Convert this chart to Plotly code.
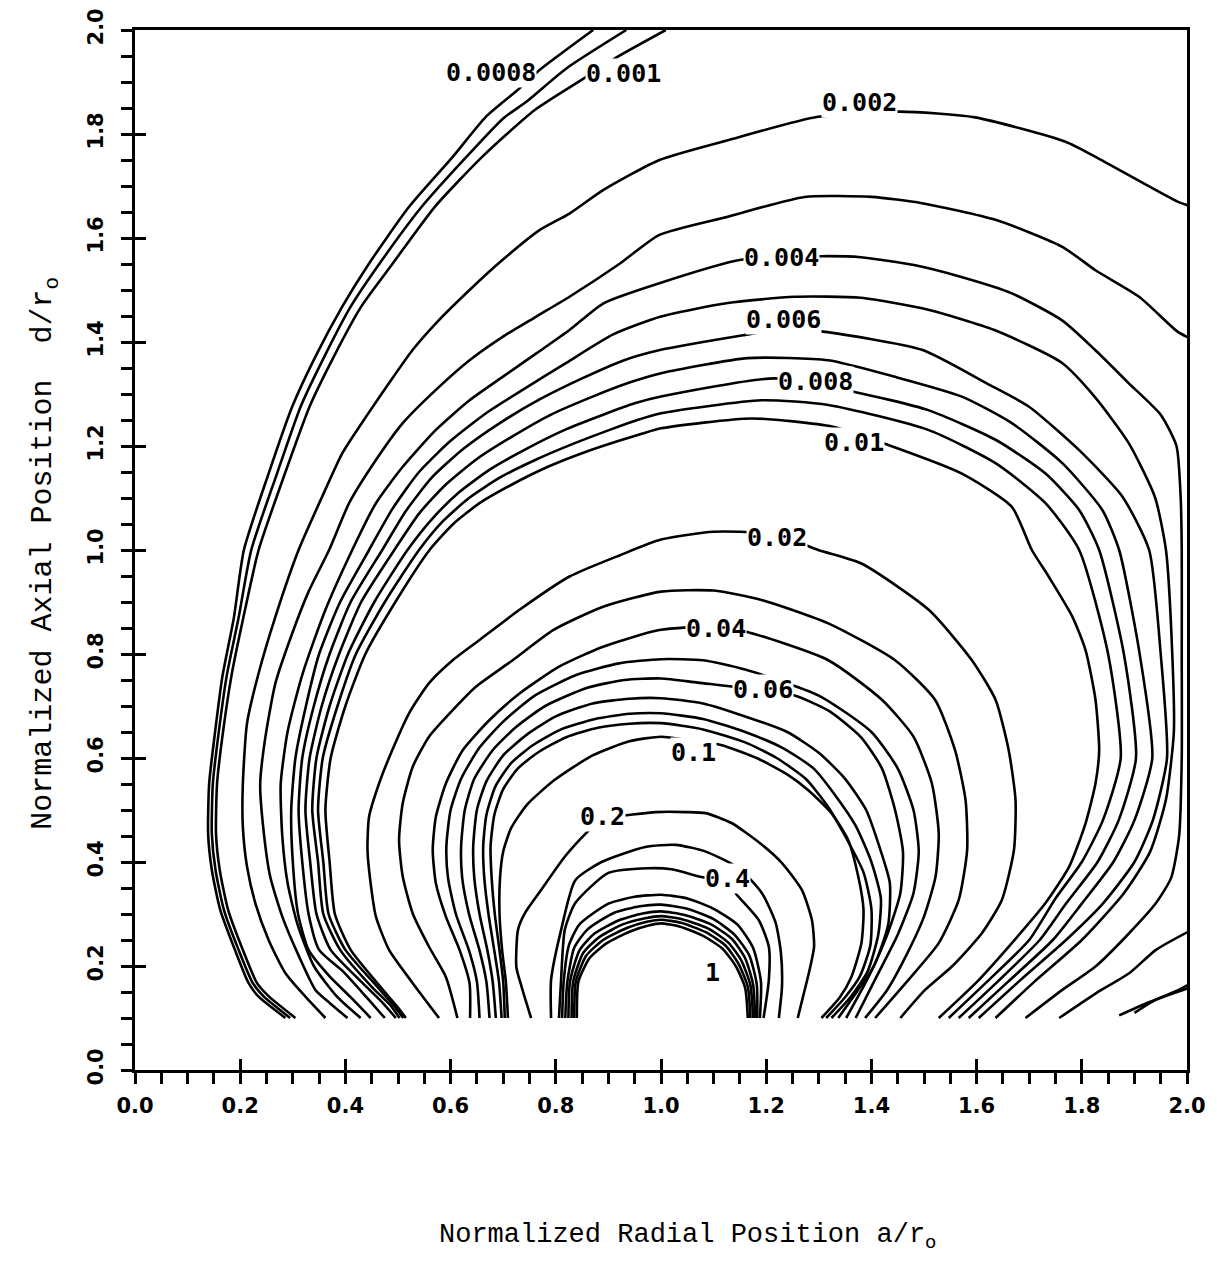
import plotly.graph_objects as go

# ---------------- contour lines (data units) ----------------
C0008_X = [0.286,0.235,0.216,0.19,0.162,0.146,0.139,0.141,0.151,0.166,0.188,0.207,0.254,0.299,0.343,0.394,0.445,0.521,0.604,0.667,0.728,0.769,0.871]
C0008_Y = [0.1,0.141,0.167,0.231,0.308,0.385,0.455,0.551,0.64,0.756,0.87,1.0,1.147,1.276,1.372,1.468,1.551,1.66,1.756,1.833,1.885,1.923,2.0]

C0009_X = [0.295,0.245,0.224,0.197,0.169,0.153,0.146,0.148,0.158,0.174,0.197,0.221,0.27,0.315,0.36,0.41,0.465,0.545,0.63,0.7,0.744,0.82,0.934]
C0009_Y = [0.1,0.141,0.167,0.231,0.308,0.385,0.455,0.551,0.64,0.756,0.87,1.0,1.147,1.276,1.372,1.468,1.551,1.66,1.756,1.83,1.862,1.926,2.0]

C001_X = [0.305,0.255,0.232,0.205,0.177,0.161,0.154,0.156,0.166,0.183,0.206,0.235,0.285,0.332,0.378,0.43,0.49,0.57,0.66,0.76,0.849,0.913,1.009]
C001_Y = [0.1,0.141,0.167,0.231,0.308,0.385,0.455,0.551,0.64,0.756,0.87,1.0,1.147,1.276,1.372,1.468,1.551,1.66,1.756,1.846,1.904,1.946,2.0]
C001B_X = [1.90,1.94,1.98,2.01]
C001B_Y = [0.11,0.135,0.152,0.168]

C002_X = [0.362,0.324,0.286,0.254,0.229,0.213,0.205,0.205,0.213,0.235,0.267,0.311,0.356,0.394,0.439,0.483,0.528,0.572,0.636,0.699,0.769,0.826,0.89,0.997,1.127,1.298,1.454,1.597,1.769,1.826,1.982,2.01]
C002_Y = [0.1,0.141,0.186,0.25,0.32,0.391,0.468,0.55,0.667,0.763,0.872,1.0,1.103,1.186,1.256,1.321,1.385,1.436,1.5,1.558,1.615,1.647,1.692,1.75,1.788,1.833,1.843,1.832,1.785,1.756,1.67,1.66]
C002B_X = [1.871,1.922,1.973,2.01]
C002B_Y = [0.105,0.128,0.147,0.16]

C003_X = [0.404,0.369,0.343,0.312,0.28,0.257,0.245,0.238,0.248,0.267,0.299,0.33,0.369,0.407,0.458,0.509,0.572,0.636,0.699,0.763,0.826,0.922,0.997,1.127,1.273,1.4,1.496,1.636,1.763,1.826,1.909,1.982,2.01]
C003_Y = [0.1,0.13,0.154,0.218,0.295,0.372,0.455,0.55,0.641,0.744,0.84,0.92,1.0,1.09,1.173,1.244,1.308,1.365,1.41,1.449,1.487,1.551,1.606,1.641,1.679,1.679,1.667,1.635,1.583,1.538,1.487,1.42,1.405]
C003B_X = [1.757,1.826,1.89,1.941,2.01]
C003B_Y = [0.1,0.147,0.186,0.231,0.27]

C004_X = [0.429,0.385,0.34,0.309,0.29,0.28,0.277,0.29,0.318,0.36,0.413,0.458,0.509,0.572,0.636,0.699,0.763,0.826,0.89,0.997,1.152,1.304,1.38,1.481,1.571,1.666,1.762,1.825,1.889,1.95,1.98,1.988,1.99,1.99,1.99,1.985,1.97,1.941,1.89,1.826,1.763,1.693]
C004_Y = [0.1,0.14,0.2,0.28,0.36,0.45,0.55,0.65,0.76,0.88,1.0,1.09,1.16,1.231,1.288,1.333,1.378,1.423,1.474,1.513,1.558,1.565,1.563,1.548,1.525,1.494,1.442,1.385,1.321,1.26,1.2,1.1,1.0,0.8,0.6,0.45,0.37,0.321,0.263,0.199,0.154,0.1]

C005_X = [0.448,0.41,0.37,0.33,0.31,0.3,0.297,0.305,0.325,0.35,0.39,0.445,0.49,0.54,0.6,0.67,0.74,0.82,0.91,1.0,1.127,1.254,1.38,1.508,1.634,1.762,1.825,1.889,1.939,1.96,1.972,1.975,1.96,1.93,1.88,1.8,1.71,1.636]
C005_Y = [0.1,0.14,0.18,0.231,0.3,0.4,0.5,0.6,0.7,0.8,0.9,1.0,1.08,1.15,1.21,1.265,1.31,1.36,1.415,1.449,1.475,1.487,1.485,1.462,1.423,1.36,1.294,1.206,1.102,1.0,0.8,0.65,0.52,0.42,0.34,0.25,0.17,0.1]

C006_X = [0.475,0.44,0.395,0.35,0.33,0.318,0.311,0.318,0.34,0.37,0.41,0.47,0.515,0.565,0.625,0.695,0.77,0.85,0.93,1.0,1.156,1.233,1.308,1.496,1.62,1.699,1.795,1.877,1.928,1.95,1.962,1.935,1.9,1.84,1.77,1.68,1.604]
C006_Y = [0.1,0.14,0.19,0.231,0.3,0.4,0.5,0.6,0.7,0.8,0.9,1.0,1.075,1.14,1.195,1.245,1.29,1.33,1.365,1.385,1.413,1.425,1.42,1.385,1.32,1.276,1.192,1.103,1.0,0.8,0.6,0.48,0.4,0.32,0.25,0.17,0.1]

C007_X = [0.496,0.47,0.43,0.372,0.345,0.333,0.324,0.332,0.355,0.388,0.43,0.493,0.54,0.59,0.65,0.72,0.79,0.87,0.94,1.0,1.165,1.318,1.445,1.572,1.667,1.763,1.839,1.871,1.91,1.934,1.9,1.86,1.8,1.745,1.66,1.585]
C007_Y = [0.1,0.13,0.17,0.231,0.3,0.4,0.5,0.6,0.7,0.8,0.9,1.0,1.07,1.125,1.175,1.22,1.26,1.295,1.322,1.34,1.369,1.365,1.333,1.295,1.244,1.167,1.077,1.0,0.8,0.6,0.48,0.4,0.32,0.25,0.17,0.1]

C008_X = [0.503,0.485,0.45,0.39,0.358,0.348,0.337,0.345,0.37,0.405,0.455,0.518,0.565,0.615,0.675,0.745,0.815,0.89,0.95,1.0,1.216,1.368,1.508,1.636,1.731,1.795,1.833,1.88,1.903,1.87,1.83,1.77,1.72,1.64,1.566]
C008_Y = [0.1,0.125,0.16,0.231,0.3,0.4,0.5,0.6,0.7,0.8,0.9,1.0,1.06,1.11,1.155,1.195,1.23,1.26,1.282,1.295,1.33,1.304,1.269,1.212,1.147,1.077,1.0,0.8,0.6,0.48,0.4,0.32,0.25,0.17,0.1]

C009_X = [0.51,0.495,0.465,0.4,0.368,0.358,0.348,0.357,0.385,0.42,0.475,0.54,0.585,0.635,0.695,0.765,0.835,0.905,0.955,1.0,1.191,1.318,1.508,1.636,1.731,1.795,1.85,1.874,1.84,1.8,1.75,1.7,1.62,1.547]
C009_Y = [0.1,0.12,0.155,0.231,0.3,0.4,0.5,0.6,0.7,0.8,0.9,1.0,1.055,1.1,1.14,1.175,1.205,1.232,1.25,1.263,1.288,1.279,1.231,1.167,1.09,1.0,0.8,0.6,0.48,0.4,0.33,0.25,0.17,0.1]

C01_X = [0.515,0.5,0.475,0.41,0.38,0.37,0.362,0.372,0.4,0.438,0.495,0.56,0.605,0.655,0.715,0.785,0.855,0.92,0.965,1.0,1.172,1.327,1.432,1.572,1.667,1.705,1.737,1.782,1.807,1.826,1.833,1.826,1.807,1.776,1.731,1.667,1.604,1.528]
C01_Y = [0.1,0.12,0.15,0.231,0.3,0.4,0.5,0.6,0.7,0.8,0.9,1.0,1.05,1.09,1.125,1.16,1.188,1.21,1.224,1.234,1.253,1.237,1.202,1.147,1.083,1.0,0.949,0.872,0.808,0.712,0.615,0.551,0.474,0.391,0.321,0.244,0.173,0.1]

C02_X = [0.578,0.528,0.483,0.458,0.448,0.442,0.445,0.464,0.489,0.521,0.559,0.604,0.655,0.731,0.826,0.922,1.0,1.1,1.22,1.299,1.381,1.509,1.591,1.636,1.661,1.674,1.671,1.648,1.61,1.553,1.502,1.455]
C02_Y = [0.1,0.167,0.231,0.295,0.359,0.423,0.487,0.551,0.615,0.686,0.744,0.788,0.827,0.885,0.949,0.99,1.02,1.035,1.03,1.0,0.974,0.885,0.788,0.712,0.615,0.519,0.423,0.327,0.263,0.199,0.154,0.1]

C03_X = [0.613,0.591,0.559,0.528,0.509,0.502,0.509,0.528,0.559,0.604,0.648,0.718,0.795,0.89,1.0,1.1,1.191,1.318,1.445,1.521,1.559,1.579,1.582,1.566,1.528,1.47,1.407]
C03_Y = [0.1,0.179,0.237,0.301,0.372,0.442,0.513,0.583,0.641,0.692,0.737,0.788,0.846,0.891,0.92,0.922,0.904,0.859,0.788,0.712,0.615,0.519,0.423,0.327,0.244,0.173,0.1]

C04_X = [0.637,0.636,0.617,0.591,0.572,0.566,0.572,0.591,0.623,0.674,0.731,0.807,0.89,0.997,1.1,1.162,1.318,1.42,1.48,1.515,1.528,1.522,1.5,1.465,1.43,1.388]
C04_Y = [0.1,0.167,0.231,0.295,0.359,0.423,0.487,0.551,0.615,0.673,0.724,0.776,0.814,0.846,0.853,0.843,0.788,0.712,0.641,0.551,0.455,0.372,0.295,0.218,0.154,0.1]

C05_X = [0.655,0.65,0.635,0.61,0.595,0.592,0.6,0.62,0.655,0.7,0.76,0.84,0.92,1.0,1.08,1.16,1.3,1.4,1.45,1.48,1.49,1.48,1.45,1.41,1.37]
C05_Y = [0.1,0.17,0.23,0.3,0.37,0.43,0.5,0.56,0.62,0.67,0.72,0.76,0.782,0.79,0.788,0.77,0.72,0.65,0.58,0.5,0.42,0.34,0.26,0.18,0.1]

C06_X = [0.674,0.668,0.655,0.635,0.622,0.62,0.627,0.645,0.68,0.725,0.78,0.86,0.93,1.0,1.07,1.19,1.254,1.32,1.38,1.42,1.445,1.46,1.455,1.43,1.395,1.352]
C06_Y = [0.1,0.17,0.23,0.3,0.37,0.43,0.5,0.56,0.615,0.66,0.7,0.735,0.75,0.753,0.745,0.731,0.72,0.69,0.64,0.58,0.5,0.42,0.34,0.26,0.18,0.1]

C07_X = [0.686,0.68,0.67,0.655,0.645,0.643,0.65,0.668,0.7,0.745,0.8,0.87,0.94,1.0,1.08,1.16,1.24,1.3,1.35,1.39,1.415,1.435,1.432,1.405,1.372,1.337]
C07_Y = [0.1,0.17,0.23,0.3,0.37,0.43,0.5,0.555,0.605,0.645,0.68,0.705,0.714,0.715,0.705,0.68,0.65,0.61,0.56,0.5,0.43,0.36,0.28,0.2,0.15,0.1]

C08_X = [0.697,0.692,0.683,0.672,0.664,0.662,0.668,0.685,0.715,0.757,0.81,0.875,0.94,1.0,1.08,1.16,1.23,1.29,1.33,1.37,1.40,1.418,1.413,1.393,1.36,1.324]
C08_Y = [0.1,0.17,0.23,0.3,0.37,0.43,0.49,0.545,0.59,0.625,0.655,0.675,0.685,0.686,0.675,0.65,0.62,0.58,0.53,0.47,0.4,0.33,0.26,0.19,0.14,0.1]

C09_X = [0.703,0.7,0.693,0.684,0.678,0.676,0.683,0.7,0.728,0.768,0.82,0.88,0.94,1.0,1.08,1.16,1.22,1.275,1.315,1.35,1.385,1.4,1.398,1.378,1.35,1.314]
C09_Y = [0.1,0.17,0.23,0.3,0.37,0.43,0.49,0.54,0.58,0.612,0.64,0.658,0.666,0.667,0.655,0.63,0.6,0.56,0.51,0.45,0.38,0.31,0.24,0.18,0.14,0.1]

C1_X = [0.709,0.705,0.698,0.693,0.694,0.7,0.715,0.745,0.798,0.87,0.94,1.0,1.061,1.114,1.184,1.242,1.28,1.324,1.356,1.375,1.385,1.381,1.362,1.34,1.305]
C1_Y = [0.1,0.17,0.23,0.3,0.37,0.42,0.465,0.51,0.558,0.605,0.632,0.641,0.633,0.625,0.599,0.567,0.538,0.494,0.442,0.372,0.308,0.244,0.179,0.14,0.1]

C2_X = [0.753,0.735,0.725,0.728,0.741,0.772,0.817,0.858,0.889,0.934,0.99,1.047,1.085,1.134,1.186,1.23,1.268,1.287,1.291,1.281,1.27,1.26]
C2_Y = [0.1,0.16,0.198,0.269,0.301,0.346,0.41,0.456,0.485,0.49,0.496,0.496,0.494,0.475,0.438,0.398,0.346,0.288,0.237,0.186,0.141,0.1]

C3_X = [0.791,0.791,0.81,0.837,0.887,0.97,1.028,1.085,1.148,1.192,1.218,1.228,1.23,1.224]
C3_Y = [0.1,0.173,0.269,0.365,0.4,0.429,0.433,0.42,0.388,0.34,0.283,0.225,0.16,0.1]

C4_X = [0.806,0.81,0.817,0.837,0.9,0.976,1.02,1.077,1.127,1.144,1.186,1.205,1.205,1.195]
C4_Y = [0.1,0.173,0.269,0.321,0.379,0.388,0.386,0.371,0.36,0.337,0.288,0.237,0.173,0.1]

C5_X = [0.812,0.815,0.825,0.845,0.9,0.95,1.0,1.05,1.1,1.145,1.175,1.19,1.188]
C5_Y = [0.1,0.17,0.24,0.28,0.32,0.333,0.337,0.33,0.31,0.28,0.235,0.17,0.1]
C6_X = [0.818,0.822,0.835,0.86,0.91,0.96,1.0,1.05,1.1,1.14,1.168,1.182,1.183]
C6_Y = [0.1,0.17,0.235,0.27,0.302,0.315,0.318,0.31,0.29,0.26,0.22,0.165,0.1]
C7_X = [0.824,0.827,0.845,0.873,0.92,0.965,1.0,1.045,1.095,1.135,1.16,1.175,1.179]
C7_Y = [0.1,0.17,0.23,0.262,0.288,0.301,0.305,0.298,0.28,0.252,0.215,0.165,0.1]
C8_X = [0.83,0.833,0.852,0.882,0.927,0.97,1.0,1.04,1.09,1.128,1.153,1.17,1.175]
C8_Y = [0.1,0.17,0.225,0.255,0.28,0.292,0.296,0.29,0.272,0.245,0.21,0.163,0.1]
C9_X = [0.835,0.838,0.858,0.89,0.935,0.973,1.0,1.038,1.085,1.122,1.147,1.165,1.17]
C9_Y = [0.1,0.17,0.22,0.25,0.273,0.285,0.289,0.283,0.265,0.24,0.205,0.16,0.1]
C10_X = [0.84,0.843,0.864,0.897,0.94,0.976,1.0,1.035,1.08,1.116,1.142,1.16,1.165]
C10_Y = [0.1,0.17,0.215,0.244,0.266,0.278,0.282,0.276,0.258,0.234,0.2,0.158,0.1]

# contour value labels as printed on the chart
LABEL_TEXT = ["0.0008", "0.001", "0.002", "0.004", "0.006", "0.008", "0.01", "0.02", "0.04", "0.06", "0.1", "0.2", "0.4", "1"]
LABEL_X = [0.677, 0.929, 1.378, 1.23, 1.233, 1.293, 1.366, 1.22, 1.104, 1.194, 1.061, 0.889, 1.127, 1.098]
LABEL_Y = [1.918, 1.916, 1.861, 1.562, 1.444, 1.325, 1.207, 1.024, 0.85, 0.731, 0.61, 0.488, 0.369, 0.188]

TICK_VALUES = [0.0, 0.2, 0.4, 0.6, 0.8, 1.0, 1.2, 1.4, 1.6, 1.8, 2.0]
X_TITLE = "Normalized Radial Position a/r<sub>o</sub>"
Y_TITLE = "Normalized Axial Position\u00a0 d/r<sub>o</sub>"

LINES = [
    (C0008_X, C0008_Y), (C0009_X, C0009_Y), (C001_X, C001_Y), (C001B_X, C001B_Y),
    (C002_X, C002_Y), (C002B_X, C002B_Y), (C003_X, C003_Y), (C003B_X, C003B_Y),
    (C004_X, C004_Y), (C005_X, C005_Y), (C006_X, C006_Y), (C007_X, C007_Y),
    (C008_X, C008_Y), (C009_X, C009_Y), (C01_X, C01_Y),
    (C02_X, C02_Y), (C03_X, C03_Y), (C04_X, C04_Y), (C05_X, C05_Y), (C06_X, C06_Y),
    (C07_X, C07_Y), (C08_X, C08_Y), (C09_X, C09_Y), (C1_X, C1_Y),
    (C2_X, C2_Y), (C3_X, C3_Y), (C4_X, C4_Y), (C5_X, C5_Y), (C6_X, C6_Y),
    (C7_X, C7_Y), (C8_X, C8_Y), (C9_X, C9_Y), (C10_X, C10_Y),
]

fig = go.Figure()
for xs, ys in LINES:
    n = min(len(xs), len(ys))
    fig.add_trace(go.Scatter(
        x=xs[:n], y=ys[:n], mode="lines",
        line=dict(color="black", width=2.6, shape="spline", smoothing=0.6),
        hoverinfo="skip", showlegend=False))

# empty trace carrying the overlay axes used for the inward half of major ticks
fig.add_trace(go.Scatter(x=[None], y=[None], xaxis="x2", yaxis="y2",
                         mode="lines", showlegend=False, hoverinfo="skip"))

for t, lx, ly in zip(LABEL_TEXT, LABEL_X, LABEL_Y):
    fig.add_annotation(x=lx, y=ly, xref="x", yref="y", text=t, showarrow=False,
                       font=dict(family="DejaVu Sans Mono", size=25, color="black", weight="bold"),
                       bgcolor="white", borderpad=0, xanchor="center", yanchor="middle")

fig.add_annotation(x=0.525, y=-0.161, xref="paper", yref="paper", text=X_TITLE,
                   showarrow=False, xanchor="center", yanchor="middle",
                   font=dict(family="Liberation Mono", size=27, color="black"))
fig.add_annotation(x=-0.086, y=0.497, xref="paper", yref="paper", text=Y_TITLE,
                   showarrow=False, xanchor="center", yanchor="middle", textangle=-90,
                   font=dict(family="Liberation Mono", size=30, color="black"))

tickfont = dict(family="DejaVu Sans", size=21, color="black", weight="bold")
common = dict(range=[0, 2], showgrid=False, zeroline=False, showline=True, linewidth=3,
              linecolor="black", mirror=True, ticks="outside", ticklen=11, tickwidth=3,
              tickcolor="black", tickmode="linear", tick0=0, dtick=0.2, tickformat=".1f",
              tickfont=tickfont, automargin=False,
              minor=dict(tick0=0, dtick=0.05, ticks="outside", ticklen=11, tickwidth=2.5,
                         tickcolor="black", showgrid=False))
overlay = dict(range=[0, 2], showgrid=False, zeroline=False, showline=False, ticks="inside",
               ticklen=11, tickwidth=3, tickcolor="black", tickmode="array",
               tickvals=TICK_VALUES, showticklabels=False, automargin=False)
fig.update_layout(
    width=1217, height=1267,
    margin=dict(l=135, r=30, t=30, b=197),
    paper_bgcolor="white", plot_bgcolor="white", showlegend=False,
    xaxis=dict(**common, ticklabelstandoff=4),
    yaxis=dict(**common, tickangle=-90, ticklabelstandoff=10),
    xaxis2=dict(overlaying="x", anchor="y", side="bottom", **overlay),
    yaxis2=dict(overlaying="y", anchor="x", side="left", **overlay),
)

fig.write_html("out.html", config={"displayModeBar": False},
               post_script="document.body.style.margin='0';")
